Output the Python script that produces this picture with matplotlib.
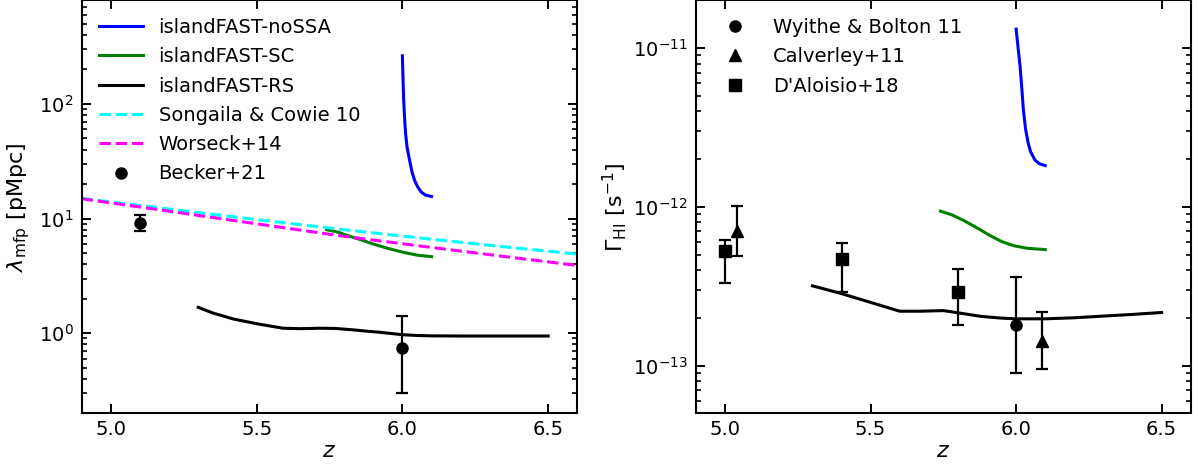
import numpy as np
import matplotlib
matplotlib.use("Agg")
import matplotlib.pyplot as plt

# ---------------- data: left panel (mean free path, pMpc) ----------------
z_nossa_l = [6.0, 6.002, 6.0045, 6.008, 6.011, 6.016, 6.025, 6.033, 6.042, 6.053, 6.065, 6.08, 6.1]
mfp_nossa = [263, 170, 107, 72, 55, 42, 32, 25.5, 21.5, 18.8, 17.0, 16.0, 15.6]

z_sc_l = [5.74, 5.78, 5.82, 5.86, 5.9, 5.95, 6.0, 6.05, 6.1]
mfp_sc = [8.0, 7.6, 7.0, 6.5, 6.0, 5.5, 5.1, 4.8, 4.65]

z_rs_l = [5.3, 5.35, 5.42, 5.5, 5.59, 5.65, 5.72, 5.77, 5.83, 5.88, 5.92, 6.0, 6.05, 6.1, 6.2, 6.3, 6.4, 6.5]
mfp_rs = [1.68, 1.50, 1.33, 1.21, 1.105, 1.095, 1.105, 1.10, 1.07, 1.04, 1.02, 0.97, 0.955, 0.948, 0.945, 0.945, 0.945, 0.945]

z_obs_fit = [4.9, 5.2, 5.5, 5.8, 6.1, 6.4, 6.6]
mfp_songaila = [15.0, 12.1, 9.8, 8.0, 6.6, 5.5, 4.9]
mfp_worseck = [14.9, 11.6, 9.0, 7.0, 5.6, 4.5, 3.9]

z_becker = [5.1, 6.0]
mfp_becker = [9.09, 0.75]
mfp_becker_lo = [1.28, 0.45]
mfp_becker_hi = [1.62, 0.65]

# ---------------- data: right panel (photoionisation rate, s^-1) ----------------
z_nossa_r = [6.0, 6.007, 6.0137, 6.02, 6.025, 6.033, 6.042, 6.05, 6.065, 6.08, 6.1]
gam_nossa = [1.32e-11, 1.0e-11, 7.66e-12, 5.47e-12, 4.07e-12, 3.05e-12, 2.5e-12, 2.22e-12, 1.97e-12, 1.87e-12, 1.82e-12]

z_sc_r = [5.74, 5.78, 5.82, 5.87, 5.91, 5.95, 5.99, 6.04, 6.1]
gam_sc = [9.4e-13, 8.9e-13, 8.2e-13, 7.3e-13, 6.6e-13, 6.05e-13, 5.7e-13, 5.48e-13, 5.38e-13]

z_rs_r = [5.3, 5.4, 5.5, 5.6, 5.67, 5.75, 5.8, 5.88, 5.95, 6.0, 6.1, 6.2, 6.3, 6.4, 6.5]
gam_rs = [3.18e-13, 2.84e-13, 2.5e-13, 2.2e-13, 2.2e-13, 2.22e-13, 2.15e-13, 2.04e-13, 1.99e-13, 1.97e-13, 1.97e-13, 2.0e-13, 2.05e-13, 2.1e-13, 2.16e-13]

z_wb11 = [6.0]
gam_wb11 = [1.8e-13]
gam_wb11_lo = [0.9e-13]
gam_wb11_hi = [1.8e-13]

z_cal11 = [5.04, 6.09]
gam_cal11 = [7.0e-13, 1.43e-13]
gam_cal11_lo = [2.1e-13, 0.48e-13]
gam_cal11_hi = [3.2e-13, 0.76e-13]

z_dal18 = [5.0, 5.4, 5.8]
gam_dal18 = [5.3e-13, 4.7e-13, 2.9e-13]
gam_dal18_lo = [2.0e-13, 1.8e-13, 1.1e-13]
gam_dal18_hi = [0.9e-13, 1.2e-13, 1.15e-13]

# ---------------- figure ----------------
plt.rcParams['font.family'] = ['DejaVu Sans']
plt.rcParams['mathtext.fontset'] = 'dejavusans'
FS = 14      # legend / tick labels
FSL = 16     # axis labels
LW = 2.2

fig = plt.figure(figsize=(11.98, 4.71), dpi=100)
axL = fig.add_axes([0.0682, 0.1225, 0.4137, 0.8765])
axR = fig.add_axes([0.581, 0.1225, 0.4129, 0.8765])

def style(ax):
    ax.set_yscale('log')
    ax.set_xlim(4.9, 6.6)
    ax.set_xticks([5.0, 5.5, 6.0, 6.5])
    ax.minorticks_off()
    ax.yaxis.set_minor_locator(matplotlib.ticker.LogLocator(base=10, subs=np.arange(2, 10)))
    ax.yaxis.set_minor_formatter(matplotlib.ticker.NullFormatter())
    ax.tick_params(axis='both', which='both', direction='in', top=True, right=True, labelsize=FS)
    ax.tick_params(axis='both', which='major', length=6.7, width=1.4)
    ax.tick_params(axis='both', which='minor', length=3.6, width=1.2)
    ax.tick_params(axis='x', pad=5)
    ax.tick_params(axis='y', pad=6)
    for s in ax.spines.values():
        s.set_linewidth(1.5)
    ax.set_xlabel('$z$', fontsize=FSL, labelpad=1)

ebkw = dict(fmt='none', ecolor='black', elinewidth=1.6, capsize=4, capthick=1.6)
legkw = dict(loc='upper left', frameon=False, fontsize=FS, handlelength=2.25, numpoints=1,
             borderaxespad=0.5, labelspacing=0.53)

# left panel
axL.plot(z_nossa_l, mfp_nossa, color='blue', lw=LW, label='islandFAST-noSSA')
axL.plot(z_sc_l, mfp_sc, color='green', lw=LW, label='islandFAST-SC')
axL.plot(z_rs_l, mfp_rs, color='black', lw=LW, label='islandFAST-RS')
axL.plot(z_obs_fit, mfp_songaila, color='cyan', lw=LW, ls='--', label='Songaila & Cowie 10')
axL.plot(z_obs_fit, mfp_worseck, color='magenta', lw=LW, ls='--', label='Worseck+14')
axL.errorbar(z_becker, mfp_becker, yerr=[mfp_becker_lo, mfp_becker_hi], **ebkw)
axL.plot(z_becker, mfp_becker, 'o', color='black', ms=8, label='Becker+21')
style(axL)
axL.set_ylim(0.2, 800)
axL.set_ylabel(r'$\lambda_{\rm mfp}$ [pMpc]', fontsize=FSL, labelpad=5)
axL.legend(**legkw)

# right panel
axR.plot(z_nossa_r, gam_nossa, color='blue', lw=LW)
axR.plot(z_sc_r, gam_sc, color='green', lw=LW)
axR.plot(z_rs_r, gam_rs, color='black', lw=LW)
axR.errorbar(z_wb11, gam_wb11, yerr=[gam_wb11_lo, gam_wb11_hi], **ebkw)
axR.errorbar(z_cal11, gam_cal11, yerr=[gam_cal11_lo, gam_cal11_hi], **ebkw)
axR.errorbar(z_dal18, gam_dal18, yerr=[gam_dal18_lo, gam_dal18_hi], **ebkw)
axR.plot(z_wb11, gam_wb11, 'o', color='black', ms=8, label='Wyithe & Bolton 11')
axR.plot(z_cal11, gam_cal11, '^', color='black', ms=8, label='Calverley+11')
axR.plot(z_dal18, gam_dal18, 's', color='black', ms=8, label="D'Aloisio+18")
style(axR)
axR.set_ylim(5e-14, 2e-11)
axR.set_ylabel(r'$\Gamma_{\rm HI}$ [s$^{-1}$]', fontsize=FSL, labelpad=3)
axR.legend(**legkw)

fig.savefig('out.png', dpi=100)
